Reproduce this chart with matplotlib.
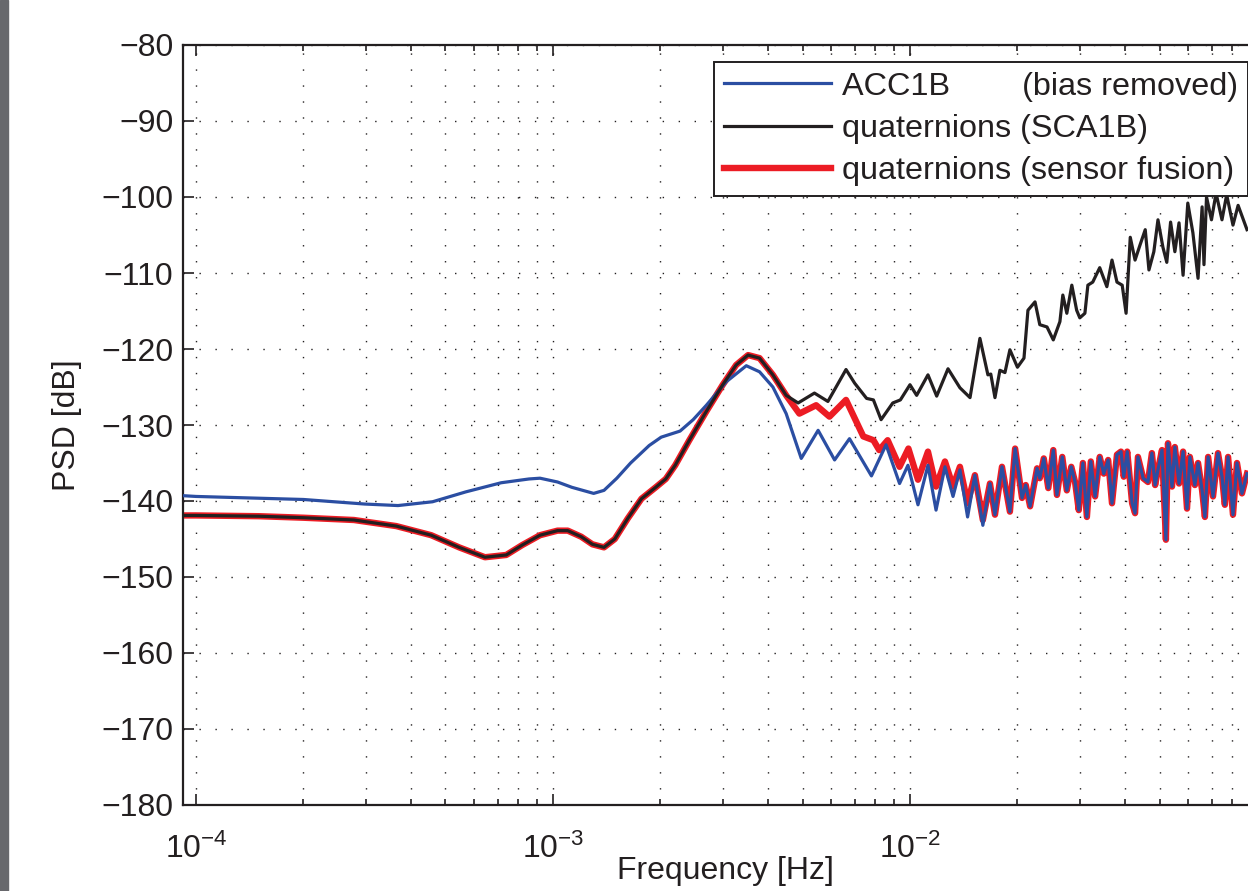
import numpy as np
import matplotlib
matplotlib.use("Agg")
import matplotlib.pyplot as plt
from matplotlib.ticker import LogLocator, NullFormatter, MultipleLocator
from matplotlib.patches import Rectangle

plt.rcParams['font.family'] = ['Liberation Sans', 'DejaVu Sans']
plt.rcParams['mathtext.fontset'] = 'custom'
plt.rcParams['mathtext.rm'] = 'Liberation Sans'
plt.rcParams['mathtext.it'] = 'Liberation Sans:italic'
plt.rcParams['mathtext.bf'] = 'Liberation Sans:bold'

INK = '#231f20'

# --- data: frequency [Hz], PSD [dB] ---
# quaternions SCA1B and sensor fusion coincide at low frequencies
shared_freq = [9.2e-5, 1.0e-4, 1.5e-4, 2.0e-4, 2.77e-4, 3.64e-4, 4.56e-4, 5.46e-4,
               6.45e-4, 7.4e-4, 8.2e-4, 9.2e-4, 1.03e-3, 1.1e-3, 1.2e-3, 1.29e-3,
               1.39e-3, 1.49e-3, 1.62e-3, 1.77e-3, 1.94e-3, 2.07e-3, 2.2e-3, 2.41e-3,
               2.69e-3, 2.99e-3, 3.26e-3, 3.52e-3, 3.79e-3, 4.13e-3, 4.5e-3]
shared_db = [-141.9, -141.9, -142.0, -142.2, -142.5, -143.3, -144.5, -146.1,
             -147.4, -147.1, -145.8, -144.5, -143.9, -143.9, -144.7, -145.7,
             -146.1, -145.0, -142.3, -139.7, -138.2, -137.1, -135.3, -132.0,
             -128.2, -124.7, -122.1, -120.8, -121.2, -123.4, -126.1]

# quaternions (SCA1B) above 4.5 mHz
sca_freq = [4.86e-3, 5.4e-3, 5.89e-3, 6.62e-3, 7.0e-3, 7.56e-3, 7.9e-3, 8.3e-3,
            8.95e-3, 9.4e-3, 1.0e-2, 1.044e-2, 1.123e-2, 1.188e-2, 1.278e-2, 1.38e-2,
            1.473e-2, 1.57e-2, 1.653e-2, 1.684e-2, 1.73e-2, 1.786e-2, 1.845e-2, 1.905e-2,
            2.0e-2, 2.086e-2, 2.14e-2, 2.24e-2, 2.31e-2, 2.42e-2, 2.52e-2, 2.63e-2,
            2.68e-2, 2.75e-2, 2.84e-2, 2.93e-2, 2.99e-2, 3.09e-2, 3.15e-2, 3.25e-2,
            3.40e-2, 3.56e-2, 3.68e-2, 3.80e-2, 3.93e-2, 4.03e-2, 4.14e-2, 4.27e-2,
            4.41e-2, 4.56e-2, 4.67e-2, 4.82e-2, 4.95e-2, 5.11e-2, 5.24e-2, 5.37e-2,
            5.52e-2, 5.67e-2, 5.82e-2, 6.0e-2, 6.2e-2, 6.41e-2, 6.58e-2, 6.66e-2,
            6.77e-2, 6.99e-2, 7.2e-2, 7.48e-2, 7.71e-2, 8.03e-2, 8.3e-2, 8.79e-2]
sca_db = [-127.1, -125.8, -126.9, -122.7, -124.5, -126.5, -126.7, -129.3,
          -127.1, -126.7, -124.7, -126.1, -123.4, -126.2, -122.6, -125.1,
          -126.4, -118.6, -123.4, -123.3, -126.4, -122.8, -123.1, -120.1,
          -122.4, -121.2, -114.9, -113.8, -116.8, -117.1, -118.8, -116.4,
          -112.9, -115.3, -111.6, -114.9, -115.9, -115.3, -111.6, -111.2,
          -109.3, -111.8, -108.3, -111.2, -111.6, -115.3, -105.3, -108.3,
          -106.3, -104.3, -109.6, -107.2, -103.0, -106.6, -108.6, -103.3,
          -107.2, -103.4, -110.3, -100.8, -104.7, -110.7, -101.3, -108.9,
          -100.0, -103.0, -99.5, -103.0, -99.7, -103.7, -101.1, -104.3]

# quaternions (sensor fusion) between 4.5 mHz and 17 mHz
fusion_freq = [4.9e-3, 5.46e-3, 5.95e-3, 6.62e-3, 7.4e-3, 7.9e-3, 8.2e-3, 8.66e-3,
               9.35e-3, 9.9e-3, 1.053e-2, 1.123e-2, 1.183e-2, 1.253e-2, 1.32e-2, 1.38e-2,
               1.45e-2, 1.52e-2, 1.60e-2, 1.675e-2]
fusion_db = [-128.5, -127.4, -128.9, -126.7, -131.5, -132.0, -133.3, -132.0,
             -135.5, -133.1, -137.2, -133.5, -138.1, -134.8, -138.1, -135.5,
             -140.3, -136.6, -142.5, -137.7]

# ACC1B (bias removed)
acc_freq = [9.2e-5, 1.0e-4, 2.0e-4, 2.97e-4, 3.68e-4, 4.6e-4, 5.7e-4, 7.16e-4,
            8.57e-4, 9.2e-4, 1.03e-3, 1.13e-3, 1.3e-3, 1.39e-3, 1.51e-3, 1.65e-3,
            1.86e-3, 2.01e-3, 2.27e-3, 2.47e-3, 2.69e-3, 3.06e-3, 3.48e-3, 3.79e-3,
            4.13e-3, 4.5e-3, 4.96e-3, 5.53e-3, 6.15e-3, 6.77e-3, 7.8e-3, 8.57e-3,
            9.35e-3, 9.87e-3, 1.053e-2, 1.123e-2, 1.183e-2, 1.253e-2, 1.32e-2, 1.38e-2,
            1.45e-2, 1.52e-2, 1.60e-2, 1.675e-2, 1.73e-2, 1.81e-2, 1.905e-2, 1.97e-2,
            2.06e-2, 2.11e-2, 2.17e-2, 2.27e-2, 2.31e-2, 2.37e-2, 2.44e-2, 2.52e-2,
            2.58e-2, 2.67e-2, 2.75e-2, 2.83e-2, 2.90e-2, 2.97e-2, 3.05e-2, 3.13e-2,
            3.21e-2, 3.30e-2, 3.40e-2, 3.49e-2, 3.59e-2, 3.68e-2, 3.80e-2, 3.90e-2,
            3.97e-2, 4.06e-2, 4.19e-2, 4.27e-2, 4.35e-2, 4.50e-2, 4.64e-2, 4.76e-2,
            4.86e-2, 4.95e-2, 5.08e-2, 5.21e-2, 5.28e-2, 5.42e-2, 5.52e-2, 5.67e-2,
            5.82e-2, 5.97e-2, 6.08e-2, 6.28e-2, 6.41e-2, 6.58e-2, 6.70e-2, 6.84e-2,
            7.06e-2, 7.29e-2, 7.48e-2, 7.62e-2, 7.78e-2, 8.03e-2, 8.24e-2, 8.51e-2,
            8.79e-2]
acc_db = [-139.3, -139.4, -139.8, -140.4, -140.6, -140.1, -138.8, -137.6,
          -137.1, -137.0, -137.5, -138.2, -139.0, -138.6, -137.0, -135.0,
          -132.7, -131.6, -130.8, -129.3, -127.4, -124.3, -122.2, -123.0,
          -125.0, -128.5, -134.4, -130.7, -134.6, -131.8, -136.7, -132.6,
          -137.7, -135.3, -140.5, -135.3, -141.2, -135.5, -139.4, -135.9,
          -142.1, -136.6, -143.2, -137.7, -141.8, -135.5, -141.4, -133.1,
          -139.6, -137.9, -140.7, -135.7, -137.0, -134.4, -138.3, -133.3,
          -139.2, -134.2, -138.6, -135.5, -137.5, -141.2, -135.0, -142.1,
          -134.8, -139.4, -134.2, -136.4, -134.6, -140.3, -133.9, -133.5,
          -136.8, -133.5, -140.3, -141.6, -134.2, -137.0, -137.5, -133.7,
          -137.9, -135.9, -133.3, -145.1, -132.4, -138.1, -132.9, -137.7,
          -133.5, -141.0, -134.2, -137.9, -135.0, -138.6, -142.1, -134.2,
          -139.4, -133.7, -136.8, -140.5, -134.2, -141.8, -135.0, -139.0,
          -136.4]

labels = ['ACC1B        (bias removed)', 'quaternions (SCA1B)',
          'quaternions (sensor fusion)']
x_ticks = [1e-4, 1e-3, 1e-2, 1e-1]
# the 10^-1 label falls outside the cropped picture
x_ticklabels = [r'$10^{-4}$', r'$10^{-3}$', r'$10^{-2}$', '']

# assemble the full series
acc_f = np.array(acc_freq)
acc_d = np.array(acc_db)
sca_f = np.concatenate([shared_freq, sca_freq])
sca_d = np.concatenate([shared_db, sca_db])
hi = acc_f > 1.7e-2
fus_f = np.concatenate([shared_freq, fusion_freq, acc_f[hi]])
fus_d = np.concatenate([shared_db, fusion_db, acc_d[hi]])

W, H = 1248, 891
fig = plt.figure(figsize=(W / 100, H / 100), dpi=100)
fig.patches.append(Rectangle((0, 0), 7.5 / W, 1, transform=fig.transFigure,
                             color='#67686c', zorder=0))
ax = fig.add_axes([183 / W, 86 / H, 1084 / W, 760 / H])

h_fus, = ax.semilogx(fus_f, fus_d, color='#ec1c24', lw=4.6, zorder=2)
h_acc, = ax.semilogx(acc_f, acc_d, color='#2b4ea2', lw=2.3, zorder=3)
h_sca, = ax.semilogx(sca_f, sca_d, color=INK, lw=2.3, zorder=4)

ax.set_ylim(-180, -80)
ax.yaxis.set_major_locator(MultipleLocator(10))
ax.set_xticks(x_ticks)
ax.set_xticklabels(x_ticklabels)
ax.xaxis.set_minor_locator(LogLocator(base=10, subs=np.arange(2, 10)))
ax.xaxis.set_minor_formatter(NullFormatter())
ax.set_xlim(9.2e-5, 1e-1)

dots = (0, (1, 10.5))
ax.grid(True, which='major', axis='both', ls=dots, lw=1.0, color=INK)
ax.grid(True, which='minor', axis='x', ls=dots, lw=1.0, color=INK)
ax.set_axisbelow(True)

ax.tick_params(which='both', direction='in', top=True, right=True,
               color=INK, labelcolor=INK, width=1.2, labelsize=23)
ax.tick_params(which='major', length=8)
ax.tick_params(which='minor', length=4)
ax.tick_params(axis='y', pad=7)
ax.tick_params(axis='x', pad=21)
for s in ax.spines.values():
    s.set_linewidth(1.6)
    s.set_color(INK)

ax.set_xlabel('Frequency [Hz]', fontsize=23, color=INK, labelpad=-7)
ax.set_ylabel('PSD [dB]', fontsize=23, color=INK, labelpad=14)

leg = ax.legend([h_acc, h_sca, h_fus], labels, loc='upper left',
                bbox_to_anchor=(714 / W, 1 - 62 / H), bbox_transform=fig.transFigure,
                prop={'size': 23.3}, frameon=True, fancybox=False, framealpha=1,
                edgecolor=INK, handlelength=3.3, handletextpad=0.35,
                labelspacing=0.38, borderpad=0.3, borderaxespad=0)
leg.get_frame().set_linewidth(1.4)
for t in leg.get_texts():
    t.set_color(INK)

fig.savefig('out.png', dpi=100)
